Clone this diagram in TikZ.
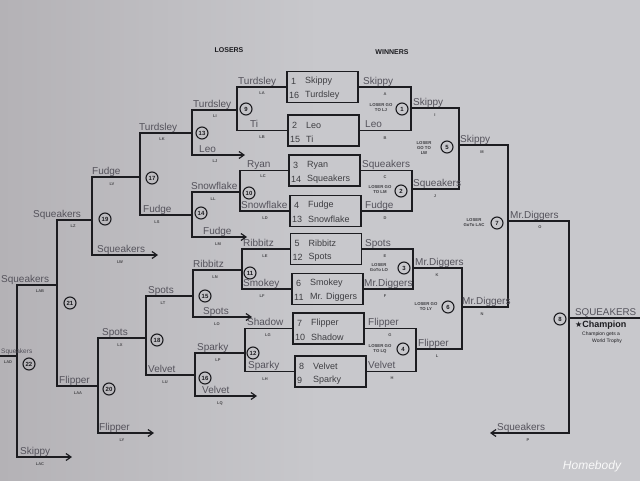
\documentclass[tikz,border=0pt]{standalone}
\usepackage{fontspec}
\setmainfont{Liberation Sans}
\newfontfamily\djv{DejaVu Sans}
\usetikzlibrary{arrows.meta}
\definecolor{paper}{HTML}{C8C8CC}
\definecolor{paperdark}{HTML}{B4B2B6}
\definecolor{inkc}{HTML}{1C1C20}
\definecolor{namec}{HTML}{54525B}
\newcommand\etext[7]{%
  \node[etx] (#1a) at (#2+4,#3+10) {#4};
  \node[etx] (#1b) at (#2+18,#3+10) {#5};
  \node[etx] (#1c) at (#2+2,#3+24) {#6};
  \node[etx] (#1d) at (#2+18,#3+24) {#7};}
\newcommand\nmw[4]{\node[nmst] (#1) at (#2,#3) {#4};}
\newcommand\lbw[4]{\node[lbst] (#1) at (#2,#3) {#4};}
\begin{document}
\begin{tikzpicture}[x=1pt,y=-1pt,
  ink/.style={draw=inkc,line width=1.2pt},
  arr/.style={ink,-{Straight Barb[length=5pt,width=7pt]}},
  boxst/.style={draw=inkc,line width=1.3pt,minimum width=71pt,minimum height=31pt,inner sep=0pt},
  etx/.style={anchor=west,inner sep=0pt,font=\fontsize{9}{9}\selectfont,text=inkc!85!white},
  nmst/.style={anchor=base west,inner sep=0pt,font=\fontsize{10}{10}\selectfont,text=namec},
  lbst/.style={inner sep=0pt,font=\fontsize{4}{4}\selectfont\bfseries,text=inkc!80!white},
  cir/.style={circle,draw=inkc,line width=1.1pt,minimum size=12pt,inner sep=0pt,font=\fontsize{6}{6}\selectfont\bfseries,text=inkc},
  note/.style={align=center,inner sep=0pt,font=\fontsize{4.3}{5}\selectfont\bfseries,text=inkc!85!white},
  hdr/.style={inner sep=0pt,font=\fontsize{7}{7}\selectfont\bfseries,text=inkc}]
\useasboundingbox (0,0) rectangle (640,480);
\shade[left color=paperdark,right color=paper,middle color=paper] (0,0) rectangle (640,480);
\clip (0,0) rectangle (640,480);

% headers
\node[hdr] (hl) at (229,50) {LOSERS};
\node[hdr] (hw) at (392,52) {WINNERS};

% entry boxes
\node[boxst] (b1) at (322.5,87) {};
\node[boxst] (b2) at (323.5,130.5) {};
\node[boxst] (b3) at (324.5,170.5) {};
\node[boxst] (b4) at (325.5,211) {};
\node[boxst] (b5) at (326,249) {};
\node[boxst] (b6) at (327.5,289) {};
\node[boxst] (b7) at (328.5,328.5) {};
\node[boxst] (b8) at (330.5,371.5) {};
\etext{t1}{287}{71.5}{1}{Skippy}{16}{Turdsley}
\etext{t2}{288}{115}{2}{Leo}{15}{Ti}
\etext{t3}{289}{155}{3}{Ryan}{14}{Squeakers}
\etext{t4}{290}{195.5}{4}{Fudge}{13}{Snowflake}
\etext{t5}{290.5}{233.5}{5}{Ribbitz}{12}{Spots}
\etext{t6}{292}{273.5}{6}{Smokey}{11}{Mr. Diggers}
\etext{t7}{293}{313}{7}{Flipper}{10}{Shadow}
\etext{t8}{295}{356}{8}{Velvet}{9}{Sparky}

% winners junctions
\coordinate (wm1) at (411,108);
\coordinate (wm2) at (412,189);
\coordinate (wm3) at (413,268);
\coordinate (wm4) at (416,349);
\coordinate (wm5) at (459,145);
\coordinate (wm6) at (462,307);
\coordinate (wm7) at (508,221);
\coordinate (wm8) at (569,318);
\coordinate (pend) at (490,433);
\coordinate (champ) at (660,318);
\draw[ink] (b1.east) -| (wm1) |- (b2.east);
\draw[ink] (b3.east) -| (wm2) |- (b4.east);
\draw[ink] (b5.east) -| (wm3) |- (b6.east);
\draw[ink] (b7.east) -| (wm4) |- (b8.east);
\draw[ink] (wm1) -| (wm5) |- (wm2);
\draw[ink] (wm3) -| (wm6) |- (wm4);
\draw[ink] (wm5) -| (wm7) |- (wm6);
\draw[ink] (wm7) -| (wm8);
\draw[arr] (wm8) |- (pend);
\draw[ink] (wm8) -- (champ);

% losers junctions
\coordinate (lm9) at (237,110);
\coordinate (lm10) at (240,192);
\coordinate (lm11) at (242,270);
\coordinate (lm12) at (245,353);
\coordinate (lm13) at (192,133);
\coordinate (lm14) at (192,215);
\coordinate (lm15) at (193,296);
\coordinate (lm16) at (195,375);
\coordinate (lm17) at (140,177);
\coordinate (lm18) at (146,338);
\coordinate (lm19) at (92,220);
\coordinate (lm20) at (98,386);
\coordinate (lm21) at (57,285);
\coordinate (lm22) at (17,356);
\coordinate (aLJ) at (245,155);
\coordinate (aLM) at (247,237);
\coordinate (aLO) at (252,317);
\coordinate (aLQ) at (257,396);
\coordinate (aLW) at (158,255);
\coordinate (aLY) at (154,433);
\coordinate (aLAC) at (72,457);
\coordinate (lout) at (-5,356);
\draw[ink] (b1.west) -| (lm9) |- (b2.west);
\draw[ink] (b3.west) -| (lm10) |- (b4.west);
\draw[ink] (b5.west) -| (lm11) |- (b6.west);
\draw[ink] (b7.west) -| (lm12) |- (b8.west);
\draw[ink] (lm9) -| (lm13);
\draw[arr] (lm13) |- (aLJ);
\draw[ink] (lm10) -| (lm14);
\draw[arr] (lm14) |- (aLM);
\draw[ink] (lm11) -| (lm15);
\draw[arr] (lm15) |- (aLO);
\draw[ink] (lm12) -| (lm16);
\draw[arr] (lm16) |- (aLQ);
\draw[ink] (lm13) -| (lm17) |- (lm14);
\draw[ink] (lm15) -| (lm18) |- (lm16);
\draw[ink] (lm17) -| (lm19);
\draw[arr] (lm19) |- (aLW);
\draw[ink] (lm18) -| (lm20);
\draw[arr] (lm20) |- (aLY);
\draw[ink] (lm19) -| (lm21) |- (lm20);
\draw[ink] (lm21) -| (lm22);
\draw[arr] (lm22) |- (aLAC);
\draw[ink] (lm22) -- (lout);

% circles
\node[cir] (c1) at (402,109) {1};
\node[cir] (c2) at (401,191) {2};
\node[cir] (c3) at (404,268) {3};
\node[cir] (c4) at (403,349) {4};
\node[cir] (c5) at (447,147) {5};
\node[cir] (c6) at (448,307) {6};
\node[cir] (c7) at (497,223) {7};
\node[cir] (c8) at (560,319) {8};
\node[cir] (c9) at (246,109) {9};
\node[cir] (c10) at (249,193) {10};
\node[cir] (c11) at (250,273) {11};
\node[cir] (c12) at (253,353) {12};
\node[cir] (c13) at (202,133) {13};
\node[cir] (c14) at (201,213) {14};
\node[cir] (c15) at (205,296) {15};
\node[cir] (c16) at (205,378) {16};
\node[cir] (c17) at (152,178) {17};
\node[cir] (c18) at (157,340) {18};
\node[cir] (c19) at (105,219) {19};
\node[cir] (c20) at (109,389) {20};
\node[cir] (c21) at (70,303) {21};
\node[cir] (c22) at (29,364) {22};

% loser notes
\node[note] (ln1) at (381,108) {LOSER GO\\TO LJ};
\node[note] (ln2) at (380,190) {LOSER GO\\TO LM};
\node[note] (ln3) at (379,268) {LOSER\\GoTo LO};
\node[note] (ln4) at (380,349) {LOSER GO\\TO LQ};
\node[note] (ln5) at (424,148) {LOSER\\GO TO\\LW};
\node[note] (ln6) at (426,307) {LOSER GO\\TO LY};
\node[note] (ln7) at (474,223) {LOSER\\GoTo LAC};

% losers names
\nmw{nLA}{238}{84}{Turdsley}
\nmw{nLB}{250}{127}{Ti}
\nmw{nLI}{193}{107}{Turdsley}
\nmw{nLJ}{199}{152}{Leo}
\nmw{nLK}{139}{130}{Turdsley}
\nmw{nLC}{247}{167}{Ryan}
\nmw{nLD}{241}{208}{Snowflake}
\nmw{nLL}{191}{189}{Snowflake}
\nmw{nLM}{203}{234}{Fudge}
\nmw{nLS}{143}{212}{Fudge}
\nmw{nLV}{92}{174}{Fudge}
\nmw{nLW}{97}{252}{Squeakers}
\nmw{nLZ}{33}{217}{Squeakers}
\nmw{nLE}{243}{246}{Ribbitz}
\nmw{nLF}{243}{286}{Smokey}
\nmw{nLN}{193}{267}{Ribbitz}
\nmw{nLO}{203}{314}{Spots}
\nmw{nLT}{148}{293}{Spots}
\nmw{nLG}{247}{325}{Shadow}
\nmw{nLH}{248}{368}{Sparky}
\nmw{nLP}{197}{350}{Sparky}
\nmw{nLQ}{202}{393}{Velvet}
\nmw{nLU}{148}{372}{Velvet}
\nmw{nLX}{102}{335}{Spots}
\nmw{nLY}{99}{430}{Flipper}
\nmw{nLAA}{59}{383}{Flipper}
\nmw{nLAB}{1}{282}{Squeakers}
\nmw{nLAC}{20}{454}{Skippy}
\node[nmst,font=\fontsize{6.5}{6.5}\selectfont] (nLAD) at (1,353) {Squeakers};

% winners names
\nmw{nA}{363}{84}{Skippy}
\nmw{nB}{365}{127}{Leo}
\nmw{nC}{362}{167}{Squeakers}
\nmw{nD}{365}{208}{Fudge}
\nmw{nE}{365}{246}{Spots}
\nmw{nF}{364}{286}{Mr.Diggers}
\nmw{nG}{368}{325}{Flipper}
\nmw{nH}{368}{368}{Velvet}
\nmw{nI}{413}{105}{Skippy}
\nmw{nJ}{413}{186}{Squeakers}
\nmw{nK}{415}{265}{Mr.Diggers}
\nmw{nL}{418}{346}{Flipper}
\nmw{nM}{460}{142}{Skippy}
\nmw{nN}{462}{304}{Mr.Diggers}
\nmw{nO}{510}{218}{Mr.Diggers}
\nmw{nP}{497}{430}{Squeakers}
\node[nmst,font=\fontsize{9.8}{10}\selectfont] (nW) at (575,315) {SQUEAKERS};

% losers labels
\lbw{lLA}{262}{93}{LA}
\lbw{lLB}{262}{137}{LB}
\lbw{lLI}{215}{116}{LI}
\lbw{lLJ}{215}{161}{LJ}
\lbw{lLK}{162}{139}{LK}
\lbw{lLC}{263}{176}{LC}
\lbw{lLD}{265}{218}{LD}
\lbw{lLL}{213}{199}{LL}
\lbw{lLM}{218}{244}{LM}
\lbw{lLS}{157}{222}{LS}
\lbw{lLV}{112}{184}{LV}
\lbw{lLW}{120}{262}{LW}
\lbw{lLZ}{73}{226}{LZ}
\lbw{lLE}{265}{256}{LE}
\lbw{lLF}{262}{296}{LF}
\lbw{lLN}{215}{277}{LN}
\lbw{lLO}{217}{324}{LO}
\lbw{lLT}{163}{303}{LT}
\lbw{lLG}{268}{335}{LG}
\lbw{lLH}{265}{379}{LH}
\lbw{lLP}{218}{360}{LP}
\lbw{lLQ}{220}{403}{LQ}
\lbw{lLU}{165}{382}{LU}
\lbw{lLX}{120}{345}{LX}
\lbw{lLY}{122}{440}{LY}
\lbw{lLAA}{78}{393}{LAA}
\lbw{lLAB}{40}{291}{LAB}
\lbw{lLAC}{40}{464}{LAC}
\lbw{lLAD}{8}{362}{LAD}

% winners labels
\lbw{lA}{385}{94}{A}
\lbw{lB}{385}{138}{B}
\lbw{lC}{385}{177}{C}
\lbw{lD}{385}{218}{D}
\lbw{lE}{385}{256}{E}
\lbw{lF}{385}{296}{F}
\lbw{lG}{390}{335}{G}
\lbw{lH}{392}{378}{H}
\lbw{lI}{435}{115}{I}
\lbw{lJ}{435}{196}{J}
\lbw{lK}{437}{275}{K}
\lbw{lL}{437}{356}{L}
\lbw{lM}{482}{152}{M}
\lbw{lN}{482}{314}{N}
\lbw{lO}{540}{227}{O}
\lbw{lP}{528}{440}{P}

% champion
\node[anchor=west,inner sep=0pt,font=\fontsize{9}{9}\selectfont\bfseries,text=inkc] (ch1) at (575,325) {{\djv\fontsize{8}{8}\selectfont ★}Champion};
\node[anchor=west,inner sep=0pt,font=\fontsize{5}{5}\selectfont,text=inkc] (ch2) at (582,334) {Champion gets a};
\node[anchor=west,inner sep=0pt,font=\fontsize{5}{5}\selectfont,text=inkc] (ch3) at (592,341) {World Trophy};

% watermark
\node[anchor=center,inner sep=0pt,font=\fontsize{12}{12}\selectfont\itshape,text=white!95!gray] (wmk) at (592,466) {Homebody};
\end{tikzpicture}
\end{document}
